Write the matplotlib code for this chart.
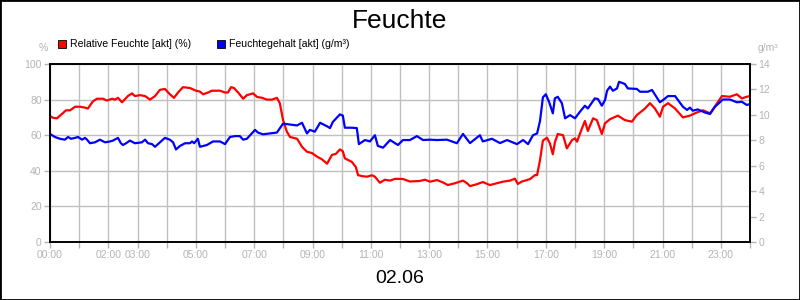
import matplotlib
matplotlib.use("Agg")
import matplotlib.pyplot as plt
from matplotlib.patches import Rectangle
from matplotlib.lines import Line2D

plt.rcParams['font.family'] = ['Liberation Sans', 'DejaVu Sans']

title = "Feuchte"
date_label = "02.06"
red_name = "Relative Feuchte [akt] (%)"
blue_name = "Feuchtegehalt [akt] (g/m³)"

# relative humidity (%), time in hours
rh_hours = [0.00, 0.10, 0.24, 0.41, 0.55, 0.69, 0.86, 1.03, 1.20, 1.30, 1.47, 1.61, 1.82, 1.95,
            2.13, 2.23, 2.33, 2.47, 2.67, 2.81, 2.91, 3.09, 3.26, 3.43, 3.60, 3.77, 3.94, 4.11,
            4.25, 4.39, 4.56, 4.80, 5.01, 5.14, 5.25, 5.42, 5.55, 5.83, 6.00, 6.10, 6.21, 6.31,
            6.45, 6.55, 6.62, 6.75, 6.96, 7.10, 7.27, 7.44, 7.61, 7.78, 7.88, 7.99, 8.12, 8.23,
            8.47, 8.64, 8.81, 8.98, 9.15, 9.32, 9.50, 9.67, 9.80, 9.94, 10.04, 10.11, 10.35, 10.49,
            10.56, 10.70, 10.87, 11.04, 11.14, 11.31, 11.48, 11.66, 11.83, 12.10, 12.34, 12.68,
            12.86, 13.03, 13.27, 13.47, 13.64, 13.88, 14.16, 14.30, 14.40, 14.64, 14.84, 15.08,
            15.32, 15.53, 15.77, 15.94, 16.04, 16.18, 16.35, 16.46, 16.63, 16.70, 16.80, 16.90,
            17.04, 17.14, 17.24, 17.31, 17.41, 17.59, 17.72, 17.90, 18.00, 18.07, 18.24, 18.34,
            18.44, 18.62, 18.75, 18.92, 19.03, 19.20, 19.47, 19.71, 19.95, 20.12, 20.40, 20.57,
            20.74, 20.91, 21.02, 21.19, 21.43, 21.70, 21.94, 22.18, 22.39, 22.63, 22.87, 23.04,
            23.31, 23.55, 23.72, 23.89, 24.00]
rh_values = [70.8, 69.8, 69.5, 72.0, 74.0, 74.0, 76.0, 76.0, 75.5, 75.0, 79.0, 80.5, 80.5, 79.5,
             80.5, 80.0, 81.0, 78.5, 82.0, 83.5, 82.0, 82.5, 82.0, 80.0, 82.0, 85.5, 86.0, 83.0,
             81.0, 84.0, 87.0, 86.5, 85.0, 84.5, 83.0, 84.0, 85.0, 85.0, 84.0, 84.0, 87.0, 86.5,
             84.0, 82.0, 80.5, 82.5, 83.5, 81.5, 81.0, 80.0, 80.0, 81.0, 78.0, 68.5, 62.0, 59.0,
             58.0, 53.5, 50.7, 50.0, 48.0, 46.5, 44.0, 49.0, 49.5, 52.0, 51.0, 47.0, 45.0, 42.0,
             37.6, 37.0, 36.7, 37.5, 36.7, 33.3, 35.0, 34.5, 35.5, 35.4, 34.0, 34.3,
             35.0, 33.9, 34.8, 33.5, 32.0, 33.0, 34.5, 33.0, 31.4, 32.5, 33.7, 32.0,
             33.0, 33.9, 34.5, 35.6, 32.6, 34.0, 34.8, 35.4, 37.6, 37.6, 46.0, 57.0,
             58.6, 55.4, 49.3, 56.0, 60.7, 60.0, 52.6, 57.3, 58.2, 56.4, 63.9, 68.0,
             62.4, 69.5, 68.5, 60.7, 66.7, 69.0, 71.0, 68.5, 67.6, 71.3, 75.0, 78.0,
             75.0, 70.4, 76.0, 78.0, 75.0, 70.0, 71.0, 72.8, 74.0, 72.3, 78.0, 82.0,
             81.6, 83.0, 80.7, 81.6, 82.0]

# absolute humidity (g/m³), time in hours
ah_hours = [0.00, 0.17, 0.34, 0.51, 0.62, 0.72, 0.86, 0.96, 1.10, 1.20, 1.27, 1.37, 1.54, 1.71,
            1.89, 2.06, 2.16, 2.33, 2.43, 2.50, 2.61, 2.74, 2.91, 3.15, 3.26, 3.36, 3.50, 3.60,
            3.77, 3.94, 4.11, 4.22, 4.32, 4.46, 4.63, 4.80, 4.87, 4.94, 5.07, 5.14, 5.38, 5.59,
            5.83, 6.00, 6.17, 6.34, 6.51, 6.62, 6.75, 7.03, 7.13, 7.30, 7.54, 7.78, 7.99, 8.23,
            8.47, 8.64, 8.81, 8.91, 9.08, 9.26, 9.50, 9.60, 9.70, 9.94, 10.04, 10.11, 10.35, 10.52,
            10.59, 10.80, 10.97, 11.14, 11.24, 11.42, 11.66, 11.93, 12.10, 12.34, 12.58, 12.79,
            13.03, 13.27, 13.61, 13.95, 14.16, 14.40, 14.74, 14.84, 15.15, 15.43, 15.67, 16.01,
            16.22, 16.39, 16.56, 16.70, 16.80, 16.90, 17.00, 17.11, 17.24, 17.31, 17.41, 17.55,
            17.66, 17.83, 18.00, 18.17, 18.34, 18.44, 18.68, 18.79, 18.92, 19.03, 19.10, 19.20,
            19.30, 19.44, 19.51, 19.71, 19.81, 20.12, 20.23, 20.50, 20.64, 20.91, 21.02, 21.19,
            21.43, 21.70, 21.84, 21.94, 22.04, 22.21, 22.45, 22.63, 22.80, 23.07, 23.31, 23.55,
            23.72, 23.89, 24.00]
ah_values = [8.50, 8.26, 8.12, 8.05, 8.26, 8.12, 8.19, 8.26, 8.05, 8.19, 8.05, 7.77, 7.84, 8.05,
             7.84, 7.91, 7.98, 8.19, 7.77, 7.63, 7.77, 7.98, 7.77, 7.84, 8.05, 7.77, 7.70, 7.49,
             7.84, 8.19, 8.05, 7.84, 7.28, 7.56, 7.77, 7.77, 7.91, 7.77, 8.12, 7.49, 7.63, 7.91,
             7.91, 7.70, 8.26, 8.33, 8.33, 8.05, 8.12, 8.82, 8.61, 8.47, 8.54, 8.61, 9.31, 9.24,
             9.17, 9.38, 8.54, 8.82, 8.68, 9.38, 9.10, 8.96, 9.45, 10.04, 9.94, 8.99, 8.99, 8.96,
             7.70, 8.02, 7.91, 8.40, 7.56, 7.42, 8.02, 7.63, 8.02, 8.02, 8.33, 8.02,
             8.05, 8.02, 8.05, 7.77, 8.50, 7.78, 8.40, 7.91, 8.12, 7.78, 8.02, 7.70,
             8.02, 7.70, 8.40, 8.54, 9.52, 11.38, 11.62, 11.03, 10.12, 11.30, 11.42, 10.92,
             9.73, 9.98, 9.73, 10.25, 10.72, 10.50, 11.30, 11.24, 10.72, 11.17, 11.90, 12.22,
             11.90, 12.08, 12.60, 12.43, 12.08, 12.04, 11.82, 11.82, 11.96, 10.99, 11.17, 11.48,
             11.48, 10.64, 10.39, 10.57, 10.33, 10.43, 10.19, 10.07, 10.64, 11.21, 11.21, 10.99,
             11.03, 10.78, 10.85]

hour_ticks = list(range(25))
hour_labels = ["00:00", "", "02:00", "03:00", "", "05:00", "", "07:00", "", "09:00", "",
               "11:00", "", "13:00", "", "15:00", "", "17:00", "", "19:00", "", "21:00", "",
               "23:00", ""]
rh_ticks = [0, 20, 40, 60, 80, 100]
ah_ticks = [0, 2, 4, 6, 8, 10, 12, 14]

grey = '#b4b4b4'
grid_c = '#c0c0c0'

fig = plt.figure(figsize=(8, 3), dpi=100)
ax = fig.add_axes([0.0625, 0.1933, 0.875, 0.5933])
ax2 = ax.twinx()

ax.plot(rh_hours, rh_values, color='#ff0000', lw=1.6, solid_joinstyle='round')
ax2.plot(ah_hours, ah_values, color='#0000ff', lw=1.6, solid_joinstyle='round')

ax.set_xlim(0, 24)
ax.set_ylim(0, 100)
ax2.set_ylim(0, 14)
ax.set_xticks(hour_ticks)
ax.set_xticklabels(hour_labels)
ax.set_yticks(rh_ticks)
ax2.set_yticks(ah_ticks)
ax.grid(True, color=grid_c, lw=1.0)
ax.set_axisbelow(True)

for a in (ax, ax2):
    a.tick_params(colors=grey, labelcolor=grey, labelsize=7.5, length=4, width=1, pad=2)
    for s in a.spines.values():
        s.set_color('black')
        s.set_linewidth(1.2)

fig.text(0.5, 0.93, title, ha='center', va='center', fontsize=19)
fig.text(0.5, 0.072, date_label, ha='center', va='center', fontsize=14)
fig.text(0.054, 0.84, "%", ha='center', va='center', fontsize=7.5, color=grey)
fig.text(0.96, 0.84, "g/m³", ha='center', va='center', fontsize=7.5, color=grey)

fig.add_artist(Line2D([0.0775], [0.853], marker='s', markersize=6, color='#ff0000',
                      markeredgecolor='black', markeredgewidth=0.6, transform=fig.transFigure))
fig.text(0.087, 0.853, red_name, ha='left', va='center', fontsize=7.6)
fig.add_artist(Line2D([0.2762], [0.853], marker='s', markersize=6, color='#0000ff',
                      markeredgecolor='black', markeredgewidth=0.6, transform=fig.transFigure))
fig.text(0.286, 0.853, blue_name, ha='left', va='center', fontsize=7.6)

fig.add_artist(Rectangle((0, 0), 1, 1, transform=fig.transFigure, fill=False,
                         edgecolor='black', lw=2))

fig.savefig("out.png", dpi=100)
